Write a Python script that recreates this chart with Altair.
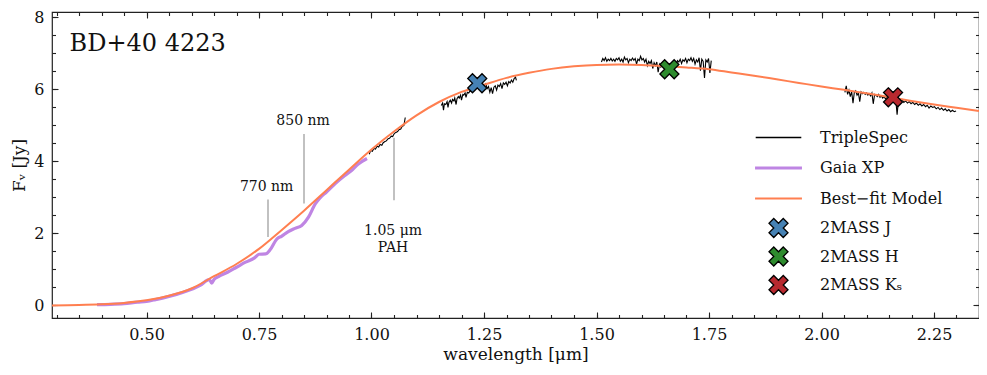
import altair as alt
import pandas as pd

SERIF = "DejaVu Serif"

# ---------------- data ----------------
model_wl = [0.29, 0.35, 0.40, 0.45, 0.50, 0.55, 0.60, 0.65, 0.70, 0.75, 0.80, 0.85, 0.90, 0.95,
            1.00, 1.05, 1.10, 1.15, 1.20, 1.25, 1.30, 1.35, 1.40, 1.45, 1.50, 1.55, 1.60, 1.65,
            1.70, 1.75, 1.80, 1.85, 1.90, 1.95, 2.00, 2.05, 2.10, 2.15, 2.20, 2.25, 2.30, 2.35]
model_f = [0.00, 0.01, 0.03, 0.07, 0.14, 0.27, 0.47, 0.81, 1.15, 1.57, 2.09, 2.63, 3.20, 3.77,
           4.33, 4.83, 5.28, 5.65, 5.93, 6.13, 6.32, 6.46, 6.57, 6.64, 6.68, 6.69, 6.68, 6.65,
           6.61, 6.56, 6.47, 6.38, 6.28, 6.18, 6.08, 5.99, 5.89, 5.79, 5.68, 5.58, 5.49, 5.40]

gaia_wl = [0.39, 0.42, 0.45, 0.48, 0.50, 0.52, 0.55, 0.58, 0.60, 0.62, 0.635, 0.64, 0.645, 0.65,
           0.66, 0.68, 0.70, 0.72, 0.74, 0.75, 0.765, 0.775, 0.79, 0.80, 0.815, 0.83, 0.845,
           0.86, 0.875, 0.885, 0.90, 0.92, 0.94, 0.955, 0.97, 0.98, 0.99]
gaia_f = [0.02, 0.03, 0.05, 0.09, 0.11, 0.16, 0.25, 0.36, 0.45, 0.56, 0.70, 0.72, 0.62, 0.72,
          0.80, 0.92, 1.06, 1.20, 1.32, 1.42, 1.43, 1.55, 1.85, 1.92, 2.05, 2.14, 2.22,
          2.45, 2.82, 2.98, 3.15, 3.39, 3.60, 3.74, 3.92, 4.01, 4.08]

ts1_wl = [0.995, 0.998, 1.002, 1.005, 1.009, 1.012, 1.016, 1.019, 1.023, 1.026, 1.030, 1.033,
          1.037, 1.040, 1.044, 1.047, 1.051, 1.054, 1.058, 1.061, 1.065, 1.068, 1.072, 1.075]
ts1_f = [4.20, 4.30, 4.28, 4.36, 4.34, 4.42, 4.40, 4.47, 4.45, 4.52, 4.55, 4.57,
         4.63, 4.64, 4.70, 4.69, 4.78, 4.80, 4.83, 4.88, 4.90, 4.97, 5.00, 5.22]

ts2_wl = [1.155, 1.158, 1.160, 1.162, 1.165, 1.168, 1.170, 1.172, 1.175, 1.178, 1.180, 1.183,
          1.185, 1.188, 1.190, 1.193, 1.195, 1.198, 1.200, 1.203, 1.205, 1.208, 1.210, 1.213,
          1.216, 1.219, 1.222, 1.226, 1.230, 1.235, 1.240, 1.245, 1.250, 1.254, 1.257, 1.260,
          1.263, 1.266, 1.269, 1.272, 1.275, 1.278, 1.281, 1.284, 1.287, 1.290, 1.293, 1.296,
          1.299, 1.302, 1.305, 1.308, 1.311, 1.314, 1.317, 1.320, 1.322]
ts2_f = [5.55, 5.62, 5.42, 5.60, 5.58, 5.66, 5.50, 5.64, 5.70, 5.62, 5.72, 5.68,
         5.76, 5.58, 5.74, 5.80, 5.76, 5.84, 5.70, 5.86, 5.84, 5.90, 5.78, 5.92,
         5.90, 5.96, 5.94, 6.02, 6.05, 6.08, 6.12, 6.15, 6.10, 6.16, 6.02, 6.08,
         5.92, 6.05, 5.88, 6.06, 6.10, 5.98, 6.12, 6.08, 6.16, 6.02, 6.18, 6.14,
         6.20, 6.10, 6.22, 6.18, 6.26, 6.20, 6.30, 6.34, 6.25]

ts3_wl = [1.511, 1.514, 1.517, 1.520, 1.523, 1.526, 1.529, 1.532, 1.535, 1.538, 1.541, 1.544,
          1.547, 1.550, 1.553, 1.556, 1.559, 1.562, 1.565, 1.568, 1.571, 1.574, 1.577, 1.580,
          1.583, 1.586, 1.589, 1.592, 1.595, 1.598, 1.601, 1.604, 1.607, 1.610, 1.613, 1.616,
          1.619, 1.622, 1.625, 1.628, 1.631, 1.634, 1.637, 1.640, 1.643, 1.646, 1.650, 1.655,
          1.660, 1.665, 1.670, 1.674, 1.677, 1.680, 1.683, 1.686, 1.689, 1.692, 1.695, 1.698,
          1.701, 1.704, 1.707, 1.710, 1.713, 1.716, 1.719, 1.722, 1.725, 1.728, 1.731, 1.734,
          1.737, 1.740, 1.743, 1.746, 1.749, 1.752, 1.755]
ts3_f = [6.76, 6.86, 6.80, 6.88, 6.78, 6.84, 6.80, 6.86, 6.79, 6.84, 6.78, 6.86,
         6.82, 6.88, 6.78, 6.84, 6.76, 6.90, 6.82, 6.86, 6.74, 6.84, 6.80, 6.87,
         6.81, 6.86, 6.70, 6.84, 6.80, 6.92, 6.82, 6.86, 6.76, 6.84, 6.66, 6.78,
         6.72, 6.80, 6.58, 6.74, 6.66, 6.76, 6.48, 6.70, 6.62, 6.68, 6.60, 6.62,
         6.60, 6.62, 6.66, 6.74, 6.70, 6.80, 6.76, 6.84, 6.72, 6.82, 6.78, 6.86,
         6.74, 6.84, 6.80, 6.88, 6.78, 6.86, 6.70, 6.82, 6.76, 6.88, 6.52, 6.84,
         6.78, 6.32, 6.82, 6.76, 6.86, 6.46, 6.80]

ts4_wl = [2.052, 2.055, 2.058, 2.061, 2.064, 2.067, 2.070, 2.073, 2.076, 2.079, 2.082, 2.085,
          2.088, 2.091, 2.094, 2.097, 2.100, 2.103, 2.106, 2.109, 2.112, 2.115, 2.118, 2.121,
          2.124, 2.127, 2.130, 2.133, 2.136, 2.139, 2.142, 2.146, 2.150, 2.155, 2.160, 2.165,
          2.168, 2.171, 2.175, 2.179, 2.183, 2.187, 2.191, 2.195, 2.199, 2.203, 2.207, 2.211,
          2.215, 2.219, 2.223, 2.227, 2.231, 2.235, 2.239, 2.243, 2.247, 2.251, 2.255, 2.259,
          2.263, 2.267, 2.271, 2.275, 2.279, 2.283, 2.287, 2.291, 2.295, 2.299]
ts4_f = [5.92, 6.10, 5.86, 5.98, 5.80, 5.94, 5.62, 5.92, 5.96, 5.84, 5.90, 5.66,
         5.93, 5.88, 5.92, 5.86, 5.90, 5.84, 5.88, 5.82, 5.90, 5.60, 5.86, 5.84,
         5.80, 5.86, 5.78, 5.82, 5.76, 5.80, 5.74, 5.78, 5.72, 5.76, 5.70, 5.72,
         5.30, 5.70, 5.68, 5.72, 5.64, 5.68, 5.62, 5.66, 5.60, 5.64, 5.58, 5.62,
         5.56, 5.60, 5.54, 5.58, 5.52, 5.56, 5.48, 5.54, 5.50, 5.52, 5.46, 5.50,
         5.44, 5.48, 5.42, 5.46, 5.40, 5.44, 5.38, 5.42, 5.38, 5.40]

tmass_names = ["2MASS J", "2MASS H", "2MASS K\u209b"]
tmass_wl = [1.235, 1.662, 2.159]
tmass_f = [6.17, 6.56, 5.78]

ann_wl = [0.77, 0.85, 1.05]
ann_top = [2.94, 4.76, 4.66]
ann_bottom = [1.90, 2.83, 2.92]
ann_text_wl = [0.767, 0.848, 1.048]
ann_text_f = [3.28, 5.11, 2.08]
ann_labels = ["770 nm", "850 nm", "1.05 \u03bcm\nPAH"]

x_major = [0.50, 0.75, 1.00, 1.25, 1.50, 1.75, 2.00, 2.25]
x_minor = [round(0.30 + 0.05 * i, 2) for i in range(42)]
y_major = [0, 2, 4, 6, 8]
y_minor = [0.5 * i for i in range(17)]

series_names = ["TripleSpec", "Gaia XP", "Best\u2212fit Model"] + tmass_names
stroke_colors = ["#000000", "#BF85E3", "#FF7F50", "#000000", "#000000", "#000000"]
fill_colors = ["transparent", "#BF85E3", "#FF7F50", "#4682B4", "#2E8B2E", "#B8292F"]
PAD = "M0,-1.07M0,1.07"
LINE_PATH = "M-2.4,0L2.4,0" + PAD
THICK_PATH = "M-2.4,-0.1L2.4,-0.1L2.4,0.1L-2.4,0.1Z" + PAD
MID_PATH = "M-2.4,-0.03L2.4,-0.03L2.4,0.03L-2.4,0.03Z" + PAD
X_PATH = "M-0.5,-1L0,-0.5L0.5,-1L1,-0.5L0.5,0L1,0.5L0.5,1L0,0.5L-0.5,1L-1,0.5L-0.5,0L-1,-0.5Z"
shape_paths = [LINE_PATH, THICK_PATH, MID_PATH, X_PATH, X_PATH, X_PATH]

# ---------------- tables ----------------
ts_frames = []
for seg, (w, f) in enumerate([(ts1_wl, ts1_f), (ts2_wl, ts2_f), (ts3_wl, ts3_f), (ts4_wl, ts4_f)]):
    ts_frames.append(pd.DataFrame({"wl": w, "f": f, "seg": seg, "series": "TripleSpec"}))
ts_df = pd.concat(ts_frames, ignore_index=True)
gaia_df = pd.DataFrame({"wl": gaia_wl, "f": gaia_f, "series": "Gaia XP"})
model_df = pd.DataFrame({"wl": model_wl, "f": model_f, "series": "Best\u2212fit Model"})
tmass_df = pd.DataFrame({"wl": tmass_wl, "f": tmass_f, "series": tmass_names})
ann_df = pd.DataFrame({"wl": ann_wl, "top": ann_top, "bottom": ann_bottom})
ann_txt_df = pd.DataFrame({"wl": ann_text_wl, "f": ann_text_f, "label": ann_labels})
title_df = pd.DataFrame({"wl": [0.329], "f": [7.27], "label": ["BD+40 4223"]})

# ---------------- scales / axes ----------------
xs = alt.Scale(domain=[0.29, 2.35], nice=False, zero=False)
ys = alt.Scale(domain=[-0.35, 8.15], nice=False, zero=False)
stroke_scale = alt.Scale(domain=series_names, range=stroke_colors)
fill_scale = alt.Scale(domain=series_names, range=fill_colors)
shape_scale = alt.Scale(domain=series_names, range=shape_paths)

TICK = "#222222"
MAJ, MIN = 6, 3.5

def xaxis(orient, values, size, labels=False, title=None):
    kw = dict(orient=orient, values=values, tickSize=size, offset=-size, domain=False, grid=False,
              tickColor=TICK, tickWidth=1.1, labels=labels)
    if labels:
        kw.update(format=".2f", labelFont=SERIF, labelFontSize=16, labelColor="#111",
                  labelPadding=8)
    if title:
        kw.update(title=title, titleFont=SERIF, titleFontSize=17, titleFontWeight="normal",
                  titleColor="#111", titlePadding=4)
    else:
        kw.update(title=None)
    return alt.Axis(**kw)

def yaxis(orient, values, size, labels=False, title=None):
    kw = dict(orient=orient, values=values, tickSize=size, offset=-size, domain=False, grid=False,
              tickColor=TICK, tickWidth=1.1, labels=labels)
    if labels:
        kw.update(format="d", labelFont=SERIF, labelFontSize=16, labelColor="#111",
                  labelPadding=8)
    if title:
        kw.update(title=title, titleFont=SERIF, titleFontSize=17, titleFontWeight="normal",
                  titleColor="#111", titlePadding=5)
    else:
        kw.update(title=None)
    return alt.Axis(**kw)

leg = alt.Legend(orient="none", legendX=716, legendY=115, title=None, labelFont=SERIF,
                 labelFontSize=16, labelColor="#111", symbolSize=361, symbolStrokeWidth=1.3,
                 labelOffset=31, rowPadding=3.5, padding=0, symbolOpacity=1)

def stroke_enc():
    return alt.Stroke("series:N", scale=stroke_scale, legend=leg)

ts_layer = alt.Chart(ts_df).mark_line(strokeWidth=1.1).encode(
    x=alt.X("wl:Q", scale=xs, axis=xaxis("bottom", x_major, MAJ, labels=True,
                                          title="wavelength [\u03bcm]")),
    y=alt.Y("f:Q", scale=ys, axis=yaxis("left", y_major, MAJ, labels=True, title="F\u1d65 [Jy]")),
    stroke=stroke_enc(),
    detail="seg:N",
)

gaia_layer = alt.Chart(gaia_df).mark_line(strokeWidth=3.2, interpolate="monotone").encode(
    x=alt.X("wl:Q", scale=xs, axis=xaxis("bottom", x_minor, MIN)),
    y=alt.Y("f:Q", scale=ys, axis=yaxis("left", y_minor, MIN)),
    stroke=stroke_enc(),
)

model_layer = alt.Chart(model_df).mark_line(strokeWidth=2.0, interpolate="monotone").encode(
    x=alt.X("wl:Q", scale=xs, axis=xaxis("top", x_major, MAJ)),
    y=alt.Y("f:Q", scale=ys, axis=yaxis("right", y_major, MAJ)),
    stroke=stroke_enc(),
)

tmass_layer = alt.Chart(tmass_df).mark_point(filled=True, size=361, strokeWidth=1.3, opacity=1).encode(
    x=alt.X("wl:Q", scale=xs, axis=xaxis("top", x_minor, MIN)),
    y=alt.Y("f:Q", scale=ys, axis=yaxis("right", y_minor, MIN)),
    stroke=stroke_enc(),
    fill=alt.Fill("series:N", scale=fill_scale, legend=leg),
    shape=alt.Shape("series:N", scale=shape_scale, legend=leg),
)

ann_rules = alt.Chart(ann_df).mark_rule(color="#a0a0a0", strokeWidth=1.3).encode(
    x=alt.X("wl:Q", scale=xs, axis=None),
    y=alt.Y("top:Q", scale=ys, axis=None),
    y2="bottom:Q",
)

ann_text = alt.Chart(ann_txt_df).mark_text(font=SERIF, fontSize=14, color="#111", align="center",
                                            baseline="middle", lineBreak="\n", lineHeight=17).encode(
    x=alt.X("wl:Q", scale=xs, axis=None),
    y=alt.Y("f:Q", scale=ys, axis=None),
    text="label:N",
)

title_text = alt.Chart(title_df).mark_text(font=SERIF, fontSize=24, color="#111", align="left",
                                            baseline="middle").encode(
    x=alt.X("wl:Q", scale=xs, axis=None),
    y=alt.Y("f:Q", scale=ys, axis=None),
    text="label:N",
)

chart = alt.layer(
    ts_layer, gaia_layer, model_layer, ann_rules, ann_text, title_text, tmass_layer
).resolve_axis(
    x="independent", y="independent"
).properties(
    width=927, height=306,
    padding={"left": 44, "top": 4, "right": 0, "bottom": 50},
    autosize=alt.AutoSizeParams(type="none"),
    background="white",
).configure_view(
    stroke="#222222", strokeWidth=1.2
)

chart.save("out.html", embed_options={"renderer": "svg", "actions": False})
